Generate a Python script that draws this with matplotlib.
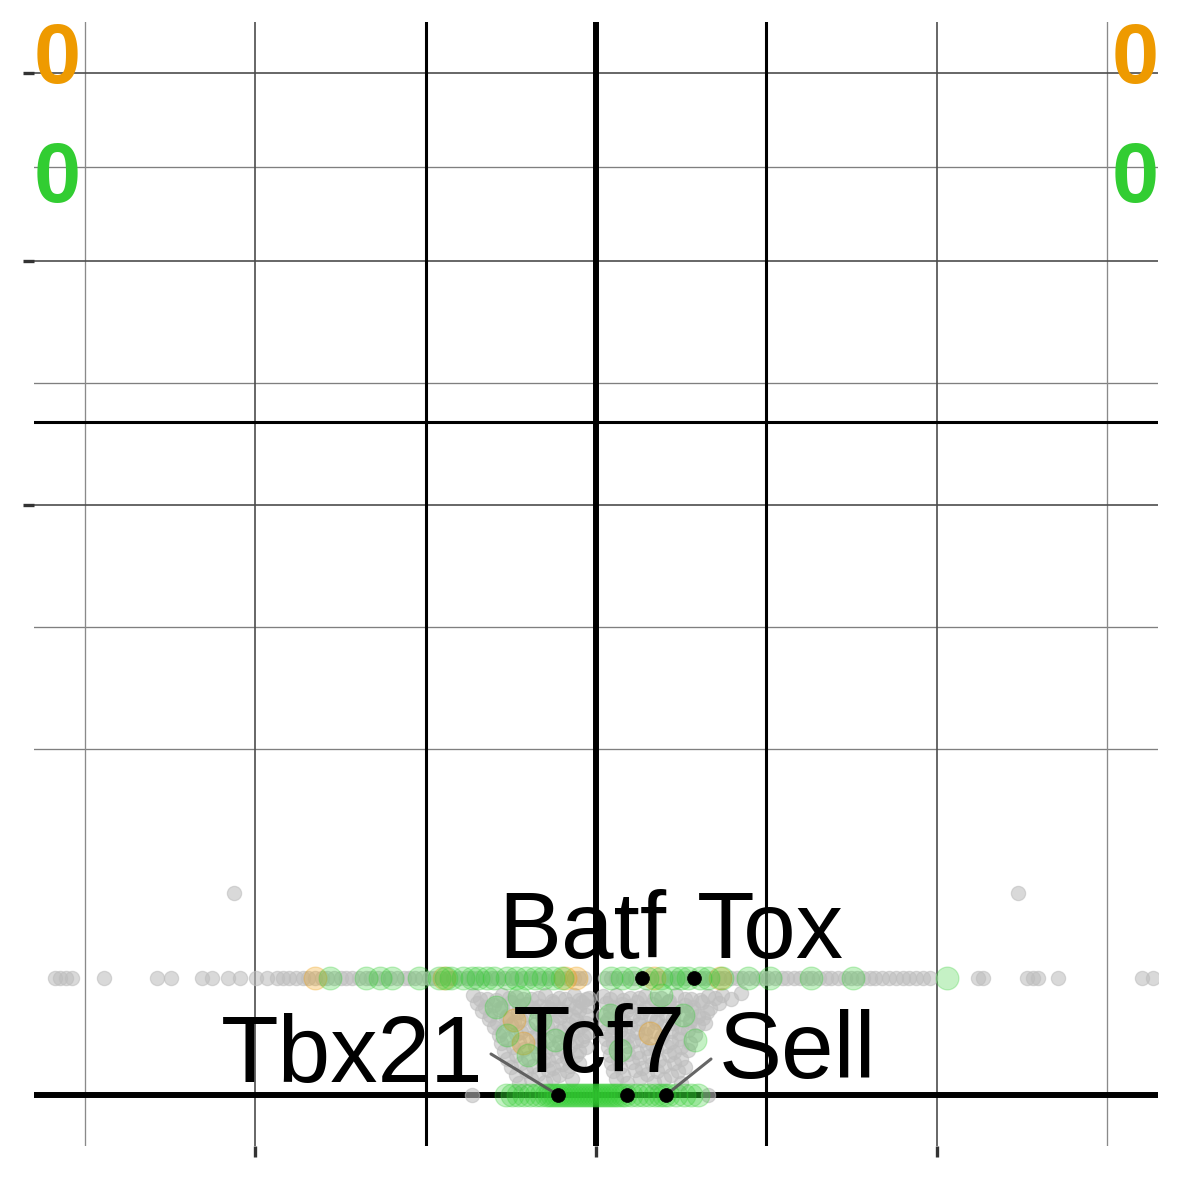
import numpy as np
import matplotlib
matplotlib.use("Agg")
import matplotlib.pyplot as plt

# ---------------- data (x = log2 fold change, y = -log10 p) ----------------
lvl1 = 0.0393   # y of the first discrete p-value row
lvl2 = 0.1172   # y of the second row

row1_gray_x = [-3.177, -3.147, -3.112, -3.077, -2.889, -2.578, -2.496, -2.314, -2.255, -2.161,
               -2.091, -1.997, -1.932, -1.873, -1.838,
               -1.80, -1.76, -1.72, -1.69, -1.65, -1.61, -1.58, -1.54, -1.50, -1.47, -1.43, -1.39,
               -1.35, -1.32, -1.28, -1.24, -1.21, -1.17, -1.13, -1.10, -1.06, -1.02, -0.98, -0.95,
               -0.91, -0.87, -0.84, -0.80, -0.76, -0.73, -0.69, -0.65, -0.61, -0.58, -0.54, -0.50,
               -0.47, -0.43, -0.39, -0.36, -0.32, -0.28, -0.24, -0.21, -0.17, -0.13, -0.10, -0.07,
               0.05, 0.09, 0.12, 0.16, 0.20, 0.23, 0.27, 0.31, 0.35, 0.38, 0.42, 0.46, 0.49, 0.53,
               0.57, 0.61, 0.64, 0.68, 0.72, 0.75, 0.79, 0.83, 0.86, 0.90, 0.94, 0.98, 1.01, 1.05,
               1.09, 1.12, 1.16, 1.20, 1.24, 1.27, 1.31, 1.35, 1.38, 1.42, 1.46, 1.50, 1.53, 1.57,
               1.61, 1.64, 1.68, 1.72, 1.76, 1.80, 1.84, 1.88,
               1.920, 1.961, 2.243, 2.272, 2.531, 2.566, 2.595, 2.713, 3.206, 3.271]
row1_green_x = [-1.56, -1.35, -1.27, -1.20, -1.04, -0.92, -0.88, -0.85, -0.78, -0.73, -0.69, -0.64,
                -0.60, -0.52, -0.47, -0.41, -0.36, -0.31, -0.25, -0.20, 0.09, 0.15, 0.22, 0.30,
                0.38, 0.45, 0.50, 0.54, 0.61, 0.66, 0.74, 0.89, 1.02, 1.26, 1.51, 2.06]
row1_orange_x = [-1.65, -0.89, -0.18, -0.12, 0.34, 0.73]
row2_gray_x = [-2.125, 2.477]

row0_gray_x = [-0.728, 0.657]
row0_green_x = [-0.530, -0.493, -0.458, -0.423, -0.388, -0.352, -0.323,
                -0.294, -0.276, -0.259, -0.241, -0.223, -0.206, -0.188, -0.170, -0.153, -0.135,
                -0.117, -0.100, -0.082, -0.064, -0.047, -0.029, -0.012, 0.006, 0.023, 0.041,
                0.059, 0.076, 0.094, 0.112, 0.129, 0.153,
                0.170, 0.206, 0.241, 0.276, 0.312, 0.347, 0.376, 0.400,
                0.423, 0.470, 0.517, 0.560, 0.600]

cloud_gray_x = [-0.72, -0.64, -0.55, -0.47, -0.38, -0.30, -0.22, -0.13, -0.06,
                -0.68, -0.59, -0.51, -0.43, -0.34, -0.26, -0.18, -0.10, -0.04,
                -0.70, -0.60, -0.50, -0.41, -0.33, -0.25, -0.16, -0.08,
                -0.65, -0.55, -0.45, -0.37, -0.29, -0.21, -0.12, -0.05,
                -0.67, -0.57, -0.46, -0.36, -0.27, -0.18, -0.10,
                -0.62, -0.52, -0.41, -0.32, -0.23, -0.14, -0.06,
                -0.63, -0.53, -0.44, -0.31, -0.21, -0.12,
                -0.58, -0.48, -0.36, -0.26, -0.16, -0.06,
                -0.60, -0.50, -0.40, -0.29, -0.19, -0.09,
                -0.55, -0.44, -0.32, -0.21, -0.11, -0.04,
                -0.57, -0.47, -0.35, -0.24, -0.14, -0.07,
                -0.52, -0.39, -0.28, -0.17, -0.08,
                -0.56, -0.45, -0.33, -0.22, -0.12,
                -0.49, -0.36, -0.25, -0.15, -0.06,
                -0.54, -0.42, -0.30, -0.20, -0.10,
                -0.47, -0.34, -0.23, -0.12,
                -0.52, -0.40, -0.28, -0.17,
                -0.44, -0.31, -0.20, -0.10,
                -0.50, -0.37, -0.25, -0.15,
                -0.41, -0.28, -0.17,
                -0.47, -0.34, -0.22,
                -0.38, -0.25, -0.14,
                -0.45, -0.30,
                0.04, 0.12, 0.20, 0.29, 0.38, 0.47, 0.56, 0.66, 0.74, 0.85,
                0.08, 0.16, 0.25, 0.34, 0.43, 0.52, 0.61, 0.70, 0.79,
                0.06, 0.15, 0.24, 0.33, 0.42, 0.52, 0.62, 0.72,
                0.10, 0.20, 0.29, 0.38, 0.47, 0.57, 0.67,
                0.08, 0.18, 0.27, 0.37, 0.46, 0.56, 0.65,
                0.04, 0.13, 0.22, 0.32, 0.41, 0.51, 0.60,
                0.07, 0.16, 0.26, 0.36, 0.45, 0.55, 0.63,
                0.05, 0.15, 0.25, 0.35, 0.45, 0.55, 0.64,
                0.10, 0.20, 0.30, 0.40, 0.50, 0.60,
                0.05, 0.14, 0.24, 0.34, 0.44, 0.54,
                0.09, 0.19, 0.29, 0.39, 0.49, 0.58,
                0.06, 0.16, 0.27, 0.38, 0.49,
                0.10, 0.22, 0.33, 0.44, 0.55,
                0.07, 0.18, 0.30, 0.41, 0.50,
                0.12, 0.24, 0.35, 0.46, 0.54,
                0.08, 0.19, 0.31, 0.43,
                0.13, 0.25, 0.37, 0.50,
                0.09, 0.21, 0.33, 0.46,
                0.14, 0.27, 0.40, 0.52,
                0.10, 0.23, 0.36, 0.48,
                0.16, 0.30, 0.44,
                0.12, 0.26, 0.40,
                0.18, 0.34, 0.50]
cloud_gray_y = [0.0287, 0.0265, 0.0287, 0.0276, 0.0265, 0.0287, 0.0270, 0.0287, 0.0265,
                0.0265, 0.0258, 0.0270, 0.0262, 0.0268, 0.0255, 0.0266, 0.0260, 0.0270,
                0.0243, 0.0232, 0.0250, 0.0240, 0.0228, 0.0245, 0.0236, 0.0248,
                0.0222, 0.0215, 0.0226, 0.0219, 0.0224, 0.0214, 0.0221, 0.0227,
                0.0203, 0.0210, 0.0196, 0.0205, 0.0212, 0.0200, 0.0207,
                0.0184, 0.0180, 0.0188, 0.0182, 0.0186, 0.0178, 0.0185,
                0.0166, 0.0172, 0.0160, 0.0168, 0.0175, 0.0163,
                0.0149, 0.0153, 0.0146, 0.0151, 0.0144, 0.0150,
                0.0133, 0.0140, 0.0128, 0.0136, 0.0130, 0.0138,
                0.0118, 0.0114, 0.0121, 0.0116, 0.0120, 0.0115,
                0.0103, 0.0108, 0.0099, 0.0105, 0.0110, 0.0101,
                0.0090, 0.0093, 0.0088, 0.0091, 0.0087,
                0.0078, 0.0082, 0.0075, 0.0080, 0.0084,
                0.0066, 0.0069, 0.0064, 0.0068, 0.0065,
                0.0056, 0.0060, 0.0053, 0.0058, 0.0055,
                0.0046, 0.0048, 0.0044, 0.0047,
                0.0037, 0.0040, 0.0035, 0.0039,
                0.0029, 0.0031, 0.0028, 0.0030,
                0.0023, 0.0025, 0.0021, 0.0024,
                0.0017, 0.0018, 0.0016,
                0.0011, 0.0013, 0.0012,
                0.0007, 0.0008, 0.0007,
                0.0004, 0.0005,
                0.0280, 0.0287, 0.0268, 0.0284, 0.0272, 0.0287, 0.0266, 0.0280, 0.0287, 0.0300,
                0.0265, 0.0258, 0.0268, 0.0262, 0.0256, 0.0266, 0.0260, 0.0268, 0.0262,
                0.0243, 0.0236, 0.0250, 0.0240, 0.0246, 0.0233, 0.0248, 0.0241,
                0.0222, 0.0226, 0.0218, 0.0224, 0.0216, 0.0223, 0.0219,
                0.0203, 0.0208, 0.0198, 0.0212, 0.0201, 0.0206, 0.0199,
                0.0184, 0.0188, 0.0180, 0.0186, 0.0182, 0.0187, 0.0181,
                0.0166, 0.0160, 0.0171, 0.0164, 0.0169, 0.0162, 0.0172,
                0.0149, 0.0152, 0.0146, 0.0151, 0.0147, 0.0153, 0.0148,
                0.0133, 0.0138, 0.0129, 0.0136, 0.0131, 0.0140,
                0.0118, 0.0121, 0.0115, 0.0119, 0.0116, 0.0122,
                0.0103, 0.0099, 0.0107, 0.0101, 0.0109, 0.0104,
                0.0090, 0.0093, 0.0088, 0.0092, 0.0089,
                0.0078, 0.0083, 0.0076, 0.0081, 0.0079,
                0.0066, 0.0069, 0.0064, 0.0068, 0.0066,
                0.0056, 0.0052, 0.0059, 0.0054, 0.0057,
                0.0046, 0.0048, 0.0044, 0.0047,
                0.0037, 0.0040, 0.0035, 0.0038,
                0.0029, 0.0031, 0.0028, 0.0030,
                0.0023, 0.0021, 0.0025, 0.0022,
                0.0017, 0.0018, 0.0016, 0.0017,
                0.0011, 0.0013, 0.0012,
                0.0007, 0.0008, 0.0007,
                0.0004, 0.0005, 0.0004]
cloud_green_x = [-0.59, -0.52, -0.40, -0.45, -0.24, -0.33, 0.08, 0.14, 0.38, 0.51, 0.58]
cloud_green_y = [0.0222, 0.0103, 0.0046, 0.0276, 0.0087, 0.0162, 0.0184, 0.0058, 0.0287, 0.0184, 0.0087]
cloud_orange_x = [-0.48, -0.43, 0.32]
cloud_orange_y = [0.0162, 0.0078, 0.0110]

label_genes = ["Batf", "Tox", "Tbx21", "Tcf7", "Sell"]
label_x = [0.270, 0.575, -0.223, 0.182, 0.411]
label_y = [lvl1, lvl1, 0.0, 0.0, 0.0]

up_count = "0"
down_count = "0"

# ---------------- styling ----------------
GREY = "#BEBEBE"
GREEN = "#32CD32"
ORANGE = "#EE9A00"
FONT = "Liberation Sans"

W = H = 1181
fig = plt.figure(figsize=(W / 100, H / 100), dpi=100)
ax = fig.add_axes([34 / W, 35 / H, 1124 / W, 1124 / H])

fwd = lambda v: np.sign(v) * np.sqrt(np.abs(v))
inv = lambda u: np.sign(u) * u ** 2
ax.set_yscale("function", functions=(fwd, inv))
ax.set_xlim(-3.3, 3.3)
ax.set_ylim(-0.00747, 3.307)

for s in ax.spines.values():
    s.set_visible(False)

# grid
major_y = [1, 2, 3]
minor_y = [0.34315, 0.62868, 1.45711, 2.47474]
major_x = [-2, 0, 2]
minor_x = [-3, -1, 1, 3]
for v in minor_y:
    ax.axhline(v, color="#7f7f7f", lw=0.95, zorder=0)
for v in minor_x:
    ax.axvline(v, color="#8a8a8a", lw=0.95, zorder=0)
for v in major_y:
    ax.axhline(v, color="#4d4d4d", lw=1.2, zorder=0.5)
for v in major_x:
    ax.axvline(v, color="#4d4d4d", lw=1.2, zorder=0.5)

ax.set_xticks(major_x)
ax.set_yticks(major_y)
ax.set_xticklabels([])
ax.set_yticklabels([])
ax.yaxis.set_minor_locator(matplotlib.ticker.NullLocator())
ax.tick_params(length=8, width=2.4, color="#333333", direction="out")

# threshold lines
ax.axvline(-1, color="black", lw=2.2, zorder=1)
ax.axvline(1, color="black", lw=2.2, zorder=1)
ax.axvline(0, color="black", lw=4.3, zorder=1)
ax.axhline(-np.log10(0.05), color="black", lw=2.2, zorder=1)
ax.axhline(0, color="black", lw=4.3, zorder=1)

gs, cs, elw = 105, 270, 0.9
# grey points
gkw = dict(s=gs, c=GREY, edgecolors=GREY, linewidths=elw, alpha=0.58, zorder=2)
ax.scatter(row1_gray_x, [lvl1] * len(row1_gray_x), **gkw)
ax.scatter(row2_gray_x, [lvl2] * len(row2_gray_x), **gkw)
ax.scatter(row0_gray_x, [0.0] * len(row0_gray_x), **gkw)
ax.scatter(cloud_gray_x, cloud_gray_y, **gkw)
# coloured points
okw = dict(s=cs, c=ORANGE, edgecolors=ORANGE, linewidths=elw, alpha=0.28, zorder=3)
grkw = dict(s=cs, c=GREEN, edgecolors=GREEN, linewidths=elw, alpha=0.28, zorder=3)
ax.scatter(row1_orange_x, [lvl1] * len(row1_orange_x), **okw)
ax.scatter(cloud_orange_x, cloud_orange_y, **okw)
ax.scatter(row1_green_x, [lvl1] * len(row1_green_x), **grkw)
ax.scatter(cloud_green_x, cloud_green_y, **grkw)
ax.scatter(row0_green_x, [0.0] * len(row0_green_x), **grkw)

# labelled genes
ax.scatter(label_x, label_y, s=100, c="black", edgecolors="black", linewidths=0.5, zorder=6)
text_off = {"Batf": (-60, 20), "Tox": (76, 20), "Tbx21": (-206, 13), "Tcf7": (-27, 23), "Sell": (131, 17)}
seg_off = {"Tbx21": (-67, 41), "Sell": (45, 36)}
for g, x, y in zip(label_genes, label_x, label_y):
    if g in seg_off:
        ax.annotate("", xy=(x, y), xytext=seg_off[g], textcoords="offset pixels",
                    arrowprops=dict(arrowstyle="-", color="#555555", lw=2.2, shrinkA=0, shrinkB=0,
                                    alpha=0.9),
                    zorder=5)
    ax.annotate(g, xy=(x, y), xytext=text_off[g], textcoords="offset pixels",
                ha="center", va="baseline", fontsize=68, family=FONT, color="black", zorder=7)

# counts
for xp in (57, 1135):
    fig.text(xp / W, 1 - 83 / H, up_count, ha="center", va="baseline", fontsize=61,
             fontweight="bold", family=FONT, color=ORANGE)
    fig.text(xp / W, 1 - 202 / H, down_count, ha="center", va="baseline", fontsize=61,
             fontweight="bold", family=FONT, color=GREEN)

fig.savefig("out.png", dpi=100, facecolor="white")
